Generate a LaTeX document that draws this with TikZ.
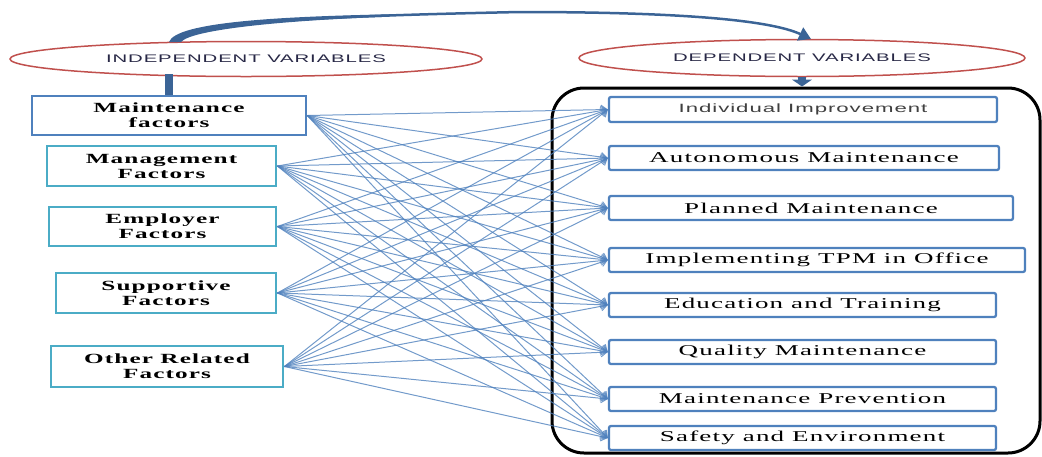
\documentclass[tikz,border=0pt]{standalone}
\usepackage{fontspec}
\setmainfont{Liberation Serif}
\newfontfamily\widesans[FakeStretch=1.85,LetterSpace=8]{Liberation Sans}
\newfontfamily\wideserif[FakeStretch=1.8,LetterSpace=8]{Liberation Serif}
\usepackage{tikz}
\usetikzlibrary{arrows.meta,shapes.geometric}
\definecolor{boxblue}{RGB}{79,129,189}
\definecolor{boxcyan}{RGB}{75,172,198}
\definecolor{ovalred}{RGB}{192,80,77}
\definecolor{arrowblue}{RGB}{59,100,150}
\definecolor{ovaltext}{RGB}{40,40,70}

\begin{document}
\begin{tikzpicture}[x=1pt,y=-1pt,
    oval/.style={ellipse,draw=ovalred,line width=1.5pt,inner sep=0pt,text=ovaltext,
      font=\widesans\fontsize{11}{13}\selectfont},
    leftbox/.style={draw=boxcyan,line width=2.8pt,fill=white,align=center,inner sep=0pt,
      font=\wideserif\bfseries\fontsize{14}{15}\selectfont},
    rightbox/.style={draw=boxblue,line width=2.3pt,fill=white,rounded corners=2pt,inner sep=0pt,
      minimum height=24pt,font=\wideserif\fontsize{15}{16}\selectfont},
    link/.style={boxblue,opacity=0.8,line width=1pt,-{Straight Barb[length=6pt,width=9pt]}}]
  \useasboundingbox (0,0) rectangle (1042,456);

  % Ovals
  \node[oval,minimum width=472pt,minimum height=35pt] (indep) at (246,59) {INDEPENDENT VARIABLES};
  \node[oval,minimum width=446pt,minimum height=37pt] (dep) at (802,58) {DEPENDENT VARIABLES};

  % Frame round the dependent variables
  \node[draw,line width=3pt,rounded corners=32pt,minimum width=488pt,minimum height=365pt] (frame) at (796,270.5) {};

  % Independent variables
  \node[leftbox,draw=boxblue,line width=2.5pt,minimum width=274pt,minimum height=39pt] (maint) at (169,115.5) {Maintenance\\factors};
  \node[leftbox,minimum width=229pt,minimum height=40pt] (mgmt) at (161.5,166) {Management\\Factors};
  \node[leftbox,minimum width=227pt,minimum height=39pt] (empl) at (162.5,226.5) {Employer\\Factors};
  \node[leftbox,minimum width=220pt,minimum height=40pt] (supp) at (166,293) {Supportive\\Factors};
  \node[leftbox,minimum width=232pt,minimum height=41pt] (other) at (167,366.5) {Other Related\\Factors};

  % Dependent variables
  \node[rightbox,minimum width=388pt,minimum height=25pt,text=darkgray,
    font=\widesans\fontsize{12}{14}\selectfont] (indiv) at (803,109.5) {Individual Improvement};
  \node[rightbox,minimum width=390pt] (auto) at (804,158) {Autonomous Maintenance};
  \node[rightbox,minimum width=404pt] (plan) at (811,208) {Planned Maintenance};
  \node[rightbox,minimum width=416pt] (office) at (817,260) {Implementing TPM in Office};
  \node[rightbox,minimum width=387pt] (edu) at (802.5,305) {Education and Training};
  \node[rightbox,minimum width=387pt] (qual) at (802.5,352) {Quality Maintenance};
  \node[rightbox,minimum width=387pt] (prev) at (802.5,399) {Maintenance Prevention};
  \node[rightbox,minimum width=387pt] (safe) at (802.5,438) {Safety and Environment};

  % Links
  \foreach \s in {maint,mgmt,empl,supp,other}
    \foreach \t in {indiv,auto,plan,office,edu,qual,prev,safe}
      \draw[link] (\s.east) -- (\t.west);

  % Arrows between the groups
  \coordinate (bendstart) at (174,41);
  \coordinate (bendend) at (811,39);
  \fill[arrowblue] (169,42) .. controls (176,22) and (280,16.5) .. (390,14.3)
    -- (390,16.7) .. controls (290,20) and (192,29) .. (181,42) -- cycle;
  \draw[arrowblue,line width=2.5pt,-{Triangle[length=12pt,width=14pt]}]
    (bendstart) .. controls (185,22) and (330,16) .. (520,12)
    .. controls (680,12) and (770,20) .. (bendend);
  \draw[arrowblue,line width=8pt] (maint.north) -- ++(0,-21);
  \draw[arrowblue,line width=8pt,-{Triangle[length=7pt,width=20pt]}] (dep.south) -- (dep.south |- frame.north);
\end{tikzpicture}
\end{document}
